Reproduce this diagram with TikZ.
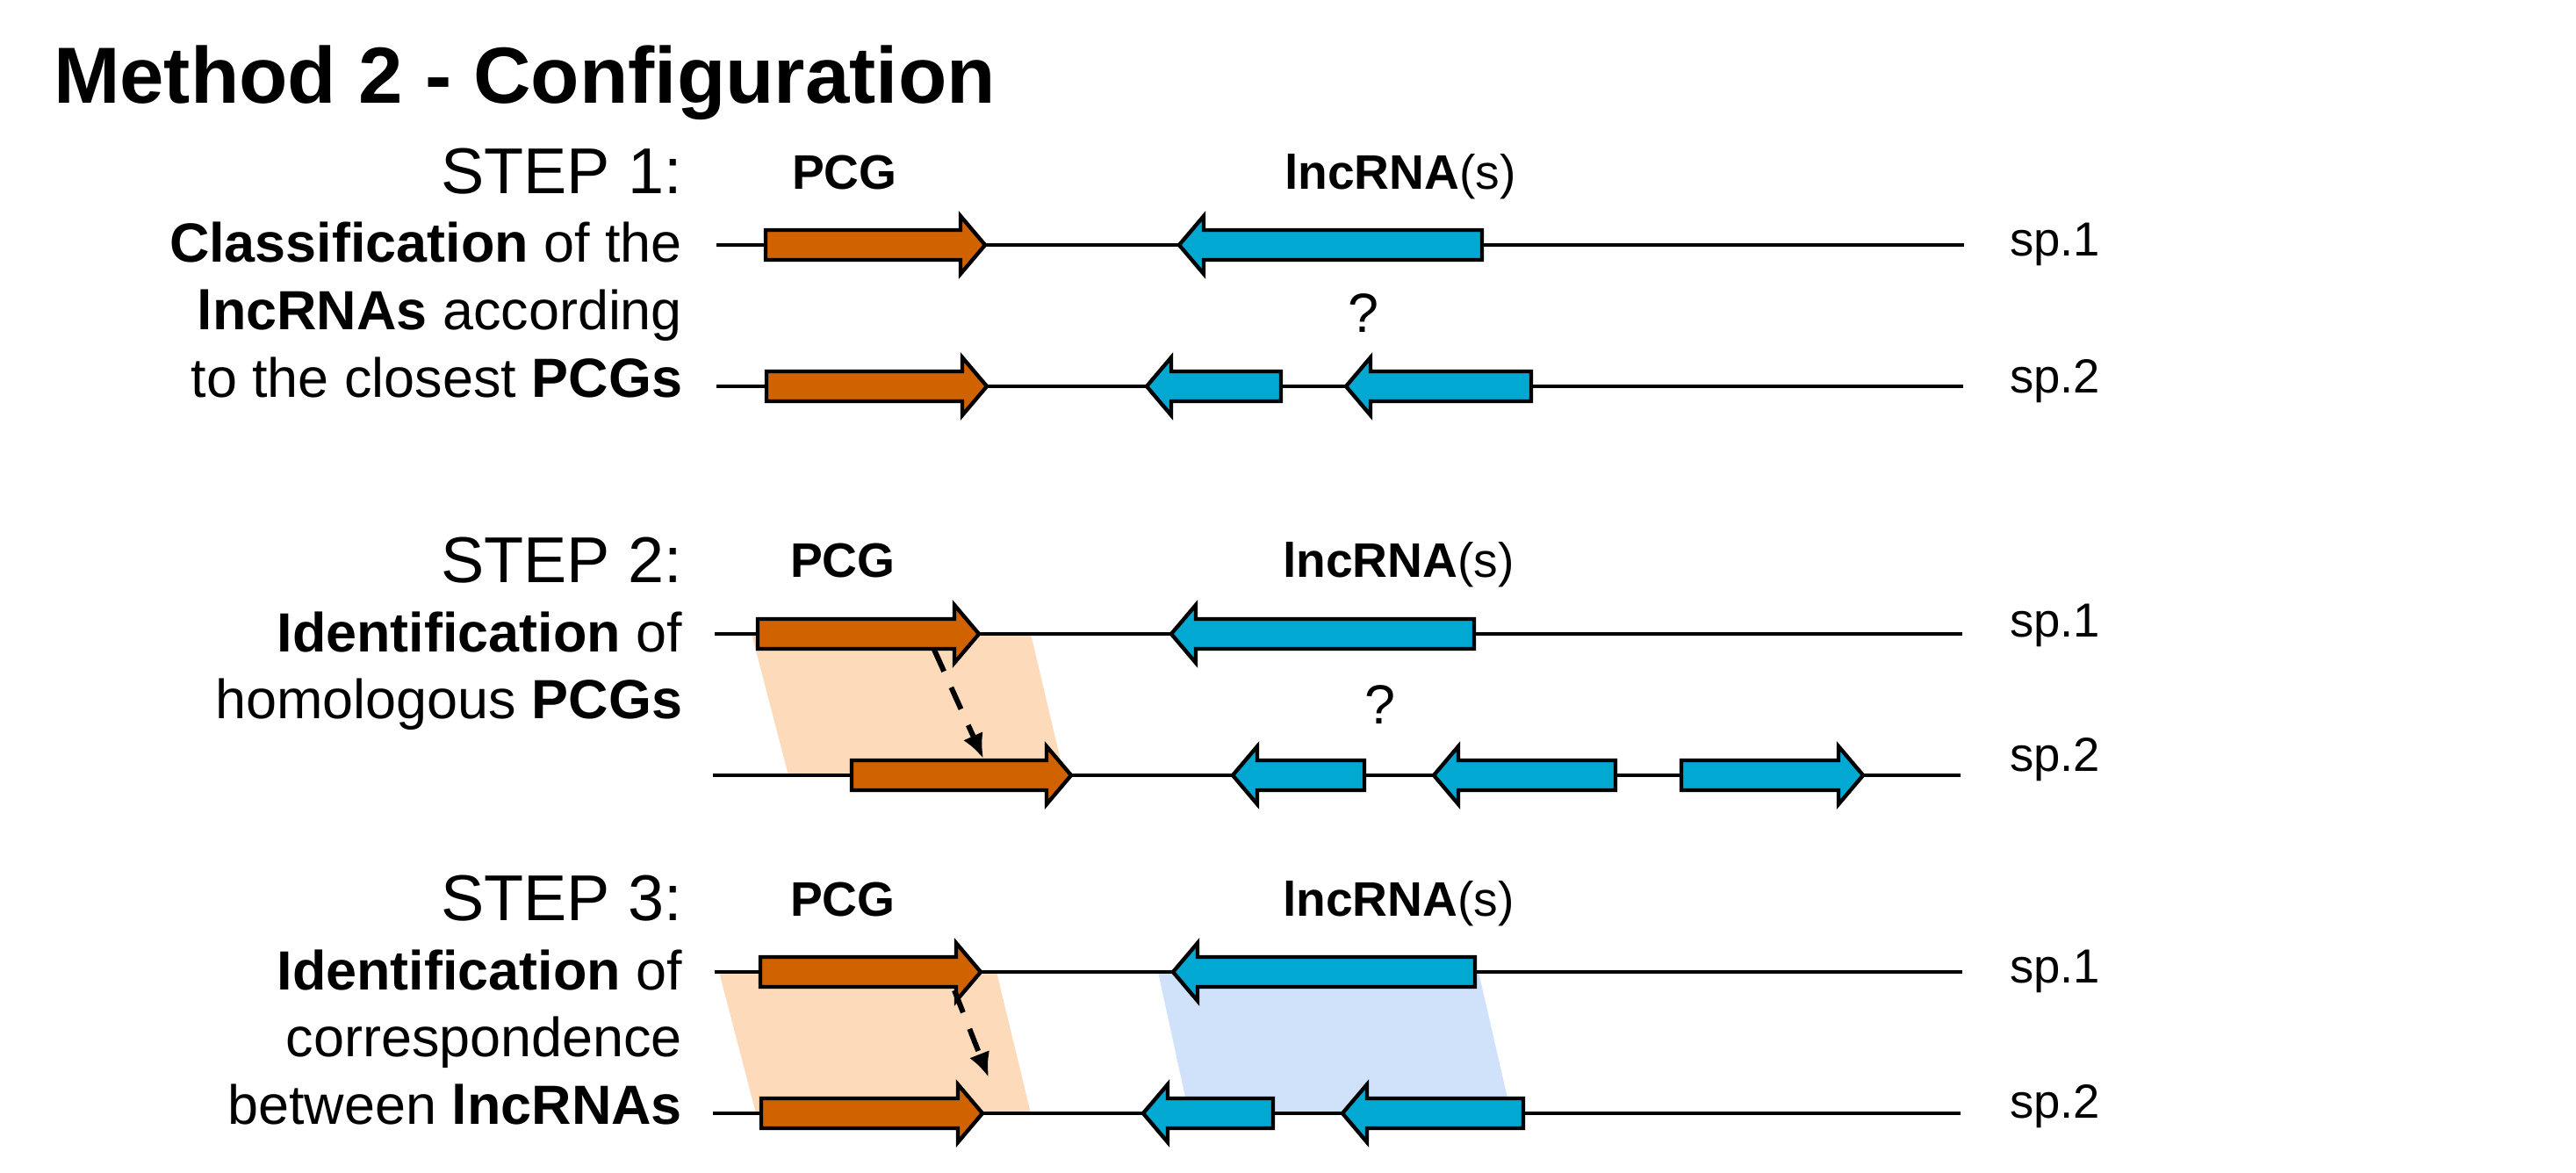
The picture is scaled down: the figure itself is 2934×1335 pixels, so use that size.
\documentclass[tikz,border=0pt]{standalone}
\usepackage{fontspec}
\setmainfont{Liberation Sans}
\usetikzlibrary{arrows.meta}
\definecolor{pcgorange}{RGB}{208,98,0}
\definecolor{lnccyan}{RGB}{0,168,210}
\definecolor{lightorange}{RGB}{252,218,186}
\definecolor{lightblue}{RGB}{207,226,250}
\newcommand\titlefnt{\fontsize{25.8pt}{30pt}\selectfont\bfseries}
\newcommand\stepfnt{\fontsize{21pt}{25pt}\selectfont}
\newcommand\bodyfnt{\fontsize{17.9pt}{21pt}\selectfont}
\newcommand\labfnt{\fontsize{15.7pt}{19pt}\selectfont}
\newcommand\spfnt{\fontsize{15.5pt}{19pt}\selectfont}
% right-pointing gene: tail x, tip x, y, fill
\newcommand\rgene[4]{%
  \filldraw[genestyle,fill=#4] ({#1},{#3-17}) -- ({#2-28},{#3-17}) -- ({#2-28},{#3-33}) -- ({#2},{#3}) -- ({#2-28},{#3+33}) -- ({#2-28},{#3+17}) -- ({#1},{#3+17}) -- cycle;}
% left-pointing gene: tip x, tail x, y, fill
\newcommand\lgene[4]{%
  \filldraw[genestyle,fill=#4] ({#2},{#3-17}) -- ({#1+28},{#3-17}) -- ({#1+28},{#3-33}) -- ({#1},{#3}) -- ({#1+28},{#3+33}) -- ({#1+28},{#3+17}) -- ({#2},{#3+17}) -- cycle;}
\begin{document}
\begin{tikzpicture}[x=0.1mm,y=-0.1mm,
  genestyle/.style={draw=black,line width=1.25pt,line join=miter},
  chrom/.style={draw=black,line width=1.2pt},
  txt/.style={inner sep=0pt,outer sep=0pt},
  bodytext/.style={txt,font=\bodyfnt,anchor=base east},
  steptext/.style={txt,font=\stepfnt,anchor=base east},
  genelabel/.style={txt,font=\labfnt,anchor=base west},
  splabel/.style={txt,font=\spfnt,anchor=base west},
  qmark/.style={txt,font=\bodyfnt,anchor=base},
  homol/.style={-{Latex[length=8pt,width=7pt]},line width=1.7pt,dash pattern=on 7.7pt off 5.7pt}]
\useasboundingbox (0,0) rectangle (2934,1335);

% title
\node[txt,font=\titlefnt,anchor=base west] (title) at (61,117) {Method 2 - Configuration};

% ---------------- STEP 1 ----------------
\node[steptext] (s1a) at (777,220) {STEP 1:};
\node[bodytext] (s1b) at (777,298) {\textbf{Classification} of the};
\node[bodytext] (s1c) at (777,375) {\textbf{lncRNAs} according};
\node[bodytext] (s1d) at (777,452) {to the closest \textbf{PCGs}};
\node[genelabel] (s1pcg) at (902,215) {\textbf{PCG}};
\node[genelabel] (s1lnc) at (1463,215) {\textbf{lncRNA}(s)};
\node[qmark] (s1q) at (1553,378) {?};
\node[splabel] (s1sp1) at (2289,291) {sp.1};
\node[splabel] (s1sp2) at (2289,447) {sp.2};
\draw[chrom] (816,279) -- (2237,279);
\draw[chrom] (816,440) -- (2236,440);
\rgene{872}{1122}{279}{pcgorange}
\lgene{1343}{1688}{279}{lnccyan}
\rgene{873}{1124}{440}{pcgorange}
\lgene{1306}{1459}{440}{lnccyan}
\lgene{1533}{1744}{440}{lnccyan}

% ---------------- STEP 2 ----------------
\node[steptext] (s2a) at (777,663) {STEP 2:};
\node[bodytext] (s2b) at (777,742) {\textbf{Identification} of};
\node[bodytext] (s2c) at (777,818) {homologous \textbf{PCGs}};
\node[genelabel] (s2pcg) at (900,657) {\textbf{PCG}};
\node[genelabel] (s2lnc) at (1461,657) {\textbf{lncRNA}(s)};
\node[qmark] (s2q) at (1572,824) {?};
\node[splabel] (s2sp1) at (2289,725) {sp.1};
\node[splabel] (s2sp2) at (2289,878) {sp.2};
\fill[lightorange] (856,722) -- (1174,722) -- (1212,883) -- (898,883) -- cycle;
\draw[chrom] (814,722) -- (2235,722);
\draw[chrom] (812,883) -- (2233,883);
\rgene{863}{1115}{722}{pcgorange}
\lgene{1334}{1679}{722}{lnccyan}
\rgene{970}{1220}{883}{pcgorange}
\lgene{1404}{1554}{883}{lnccyan}
\lgene{1633}{1840}{883}{lnccyan}
\rgene{1915}{2122}{883}{lnccyan}
\coordinate (d2s) at (1064,740);
\coordinate (d2e) at (1120,864);
\draw[homol] (d2s) -- (d2e);

% ---------------- STEP 3 ----------------
\node[steptext] (s3a) at (777,1048) {STEP 3:};
\node[bodytext] (s3b) at (777,1127) {\textbf{Identification} of};
\node[bodytext] (s3c) at (777,1203) {correspondence};
\node[bodytext] (s3d) at (777,1280) {between \textbf{lncRNAs}};
\node[genelabel] (s3pcg) at (900,1043) {\textbf{PCG}};
\node[genelabel] (s3lnc) at (1461,1043) {\textbf{lncRNA}(s)};
\node[splabel] (s3sp1) at (2289,1119) {sp.1};
\node[splabel] (s3sp2) at (2289,1273) {sp.2};
\fill[lightorange] (819,1107) -- (1135,1107) -- (1174,1268) -- (861,1268) -- cycle;
\fill[lightblue] (1319,1107) -- (1684,1107) -- (1721,1268) -- (1354,1268) -- cycle;
\draw[chrom] (814,1107) -- (2235,1107);
\draw[chrom] (812,1268) -- (2233,1268);
\rgene{866}{1117}{1107}{pcgorange}
\lgene{1336}{1680}{1107}{lnccyan}
\rgene{867}{1119}{1268}{pcgorange}
\lgene{1302}{1450}{1268}{lnccyan}
\lgene{1529}{1735}{1268}{lnccyan}
\coordinate (d3s) at (1087,1128);
\coordinate (d3e) at (1126,1227);
\draw[homol] (d3s) -- (d3e);
\end{tikzpicture}
\end{document}
